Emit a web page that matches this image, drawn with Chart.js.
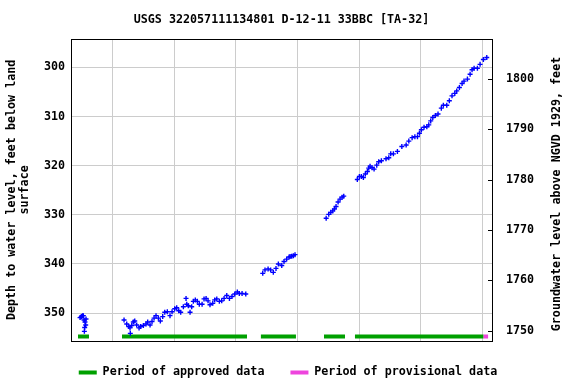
<!DOCTYPE html>
<html><head><meta charset="utf-8">
<script src="https://cdn.jsdelivr.net/npm/chart.js@4/dist/chart.umd.min.js"></script>
<style>html,body{margin:0;padding:0;background:#fff}#wrap{width:576px;height:384px;position:relative}</style>
</head><body><div id="wrap"><canvas id="c"></canvas></div>
<script>
const titleText = 'USGS 322057111134801 D-12-11 33BBC [TA-32]';
const leftTitle = ['Depth to water level, feet below land', 'surface'];
const rightTitle = 'Groundwater level above NGVD 1929, feet';

// observations: decimal year and depth to water (ft below land surface)
const obsYears = [
  1984.86,1984.95,1985.02,1985.10,1985.18,1985.25,1985.28,1985.31,1985.34,1985.41,1985.44,
  1989.14,1989.40,1989.60,1989.72,1989.75,1989.89,1990.04,1990.18,1990.37,1990.60,1990.76,
  1991.02,1991.28,1991.44,1991.67,1991.86,1992.06,1992.25,1992.48,1992.67,1992.90,1993.10,
  1993.35,1993.61,1993.81,1994.07,1994.26,1994.46,1994.65,1994.91,1995.17,1995.24,1995.39,
  1995.56,1995.72,1995.88,1996.07,1996.27,1996.46,1996.73,1996.92,1997.12,1997.31,1997.50,
  1997.77,1997.96,1998.16,1998.41,1998.64,1998.87,1999.13,1999.39,1999.64,1999.91,2000.16,
  2000.35,2000.62,2000.98,
  2002.63,2002.85,2003.15,2003.40,2003.66,2003.92,2004.15,2004.48,2004.70,2004.96,2005.19,
  2005.29,2005.45,2005.61,2005.77,
  2008.80,2009.05,2009.25,2009.44,2009.60,2009.76,2009.96,2010.15,2010.35,2010.51,
  2011.83,2012.03,2012.22,2012.42,2012.61,2012.81,2012.94,2013.07,2013.26,2013.46,2013.72,
  2013.91,2014.17,2014.62,2014.89,2015.08,2015.34,2015.73,2016.16,2016.58,2016.84,2017.16,
  2017.43,2017.68,2017.87,2018.06,2018.32,2018.59,2018.78,2018.97,2019.17,2019.42,2019.68,
  2020.00,2020.20,2020.53,2020.78,2021.04,2021.31,2021.50,2021.76,2022.02,2022.21,2022.54,
  2022.80,2022.99,2023.19,2023.51,2023.77,2024.09,2024.42
];
const obsDepth = [
  350.9,350.8,350.7,350.5,350.5,351.4,353.7,352.9,351.8,352.4,351.2,
  351.4,352.2,352.7,353.0,354.1,352.5,351.8,351.6,352.4,353.0,352.7,
  352.5,352.2,351.8,352.4,351.7,351.0,350.5,351.0,351.6,350.7,349.8,
  349.7,350.5,349.7,349.1,348.9,349.5,349.8,348.7,347.0,348.2,348.5,
  349.8,348.7,347.6,347.3,347.6,348.2,348.2,347.1,347.0,347.5,348.3,
  348.0,347.3,347.1,347.6,347.5,347.0,346.4,347.0,346.6,346.1,345.7,
  346.0,346.0,346.1,
  341.9,341.2,341.0,341.2,341.7,340.9,340.0,340.3,339.5,339.0,338.6,
  338.5,338.4,338.3,338.1,
  330.7,329.9,329.5,329.2,328.8,328.3,327.4,326.8,326.4,326.2,
  322.8,322.2,322.2,322.4,321.7,321.2,320.5,320.1,320.4,320.7,319.9,
  319.2,319.0,318.6,318.4,317.6,317.6,317.1,316.1,315.8,315.0,314.3,
  314.1,314.1,313.4,312.7,312.2,312.1,311.7,310.9,310.2,309.8,309.5,
  308.3,307.7,307.7,306.8,305.8,305.3,304.8,304.1,303.3,302.8,302.4,
  301.4,300.5,300.2,300.2,299.4,298.4,298.0
];

const approvedStart = [1984.66, 1988.94, 2002.45, 2008.59, 2011.60];
const approvedEnd   = [1985.73, 2001.10, 2005.86, 2010.63, 2024.09];
const provisionalStart = [2024.09];
const provisionalEnd   = [2024.55];
const barDepth = 354.75;

const xTicks = [1988, 1994, 2000, 2006, 2012, 2018, 2024];
const depthTicks = [300, 310, 320, 330, 340, 350];
const elevTicks = [1750, 1760, 1770, 1780, 1790, 1800];

const FAM = "'DejaVu Sans Mono', monospace";
const FS = 11.7;
Chart.defaults.font.family = FAM;
Chart.defaults.font.size = FS;
Chart.defaults.font.weight = 'bold';
Chart.defaults.color = '#000';

function periods(starts, ends) {
  const out = [];
  starts.forEach((s, i) => {
    out.push({x: s, y: barDepth}, {x: ends[i], y: barDepth}, {x: ends[i], y: null});
  });
  return out;
}

const obsPoints = obsYears.map((y, i) => ({x: y, y: obsDepth[i]}));

const decor = {
  id: 'decor',
  afterDraw(chart) {
    const {ctx, chartArea: a} = chart;
    const L = Math.round(a.left), T = Math.round(a.top), R = Math.round(a.right), B = Math.round(a.bottom);
    ctx.save();
    ctx.strokeStyle = '#000';
    ctx.lineWidth = 1;
    ctx.strokeRect(L + 0.5, T + 0.5, R - L, B - T);
    const y2 = chart.scales.y2;
    ctx.beginPath();
    elevTicks.forEach(v => {
      const py = Math.round(y2.getPixelForValue(v)) + 0.5;
      ctx.moveTo(R - 4, py); ctx.lineTo(R + 0.5, py);
    });
    ctx.stroke();
    ctx.fillStyle = '#000';
    ctx.font = 'bold ' + FS + 'px ' + FAM;
    ctx.textAlign = 'center';
    ctx.textBaseline = 'middle';
    ctx.translate(557, 194);
    ctx.rotate(-Math.PI / 2);
    ctx.fillText(rightTitle, 0, 0);
    ctx.restore();
  }
};

new Chart(document.getElementById('c'), {
  type: 'scatter',
  data: {
    datasets: [
      {label: 'Observations', data: obsPoints, pointStyle: 'cross', pointRadius: 2.5, pointBorderWidth: 1.4,
       borderColor: '#0000ff', backgroundColor: '#0000ff', showLine: false, yAxisID: 'y'},
      {label: 'Period of approved data', data: periods(approvedStart, approvedEnd), showLine: true, spanGaps: false,
       borderColor: '#00a000', backgroundColor: '#00a000', borderWidth: 4, borderCapStyle: 'butt', pointRadius: 0, yAxisID: 'y'},
      {label: 'Period of provisional data', data: periods(provisionalStart, provisionalEnd), showLine: true, spanGaps: false,
       borderColor: '#ee44dd', backgroundColor: '#ee44dd', borderWidth: 4, borderCapStyle: 'butt', pointRadius: 0, yAxisID: 'y'}
    ]
  },
  plugins: [decor],
  options: {
    animation: false,
    responsive: true,
    maintainAspectRatio: false,
    layout: {padding: {top: 0, left: 0, right: 0, bottom: -4.5}},
    plugins: {
      title: {display: true, text: titleText, fullSize: false, color: '#000',
              font: {size: FS, weight: 'bold', lineHeight: 1.2}, padding: {top: 13.3, bottom: 11.66}},
      legend: {
        position: 'bottom',
        labels: {
          boxWidth: 18, boxHeight: 4, padding: 26, color: '#000',
          font: {size: FS, weight: 'bold'},
          generateLabels: chart => chart.data.datasets.map((d, i) => ({
            text: d.label, fillStyle: d.borderColor, strokeStyle: d.borderColor, lineWidth: 0,
            hidden: false, datasetIndex: i, fontColor: '#000'
          })).filter(it => it.text !== 'Observations')
        }
      },
      tooltip: {enabled: false}
    },
    scales: {
      x: {
        type: 'linear', position: 'bottom', min: 1983.98, max: 2024.93,
        afterBuildTicks: s => { s.ticks = xTicks.map(v => ({value: v})); },
        ticks: {autoSkip: false, maxRotation: 0, minRotation: 0, padding: 7, color: '#000', callback: v => String(v)},
        grid: {color: '#cccccc', drawTicks: false},
        border: {display: false},
        afterFit: s => {
          const lg = s.chart.legend;
          const lh = lg && lg.height ? lg.height : 47.7;
          s.height = (s.chart.height + 4.5) - lh - 341;
        }
      },
      y: {
        type: 'linear', position: 'left', reverse: true, min: 294.24, max: 355.62,
        afterBuildTicks: s => { s.ticks = depthTicks.map(v => ({value: v})); },
        ticks: {padding: 6, color: '#000', callback: v => String(v)},
        grid: {color: '#cccccc', drawTicks: false},
        border: {display: false},
        title: {display: true, text: leftTitle, color: '#000', font: {size: FS, weight: 'bold', lineHeight: 1.1},
                padding: {top: 5.6, bottom: 0}},
        afterFit: s => { s.width = 71; }
      },
      y2: {
        type: 'linear', position: 'right', min: 1748.02, max: 1807.86,
        afterBuildTicks: s => { s.ticks = elevTicks.map(v => ({value: v})); },
        ticks: {padding: 14, color: '#000', callback: v => String(v)},
        grid: {drawOnChartArea: false, drawTicks: false},
        border: {display: false},
        afterFit: s => { s.width = 84; }
      }
    }
  }
});
</script></body></html>
